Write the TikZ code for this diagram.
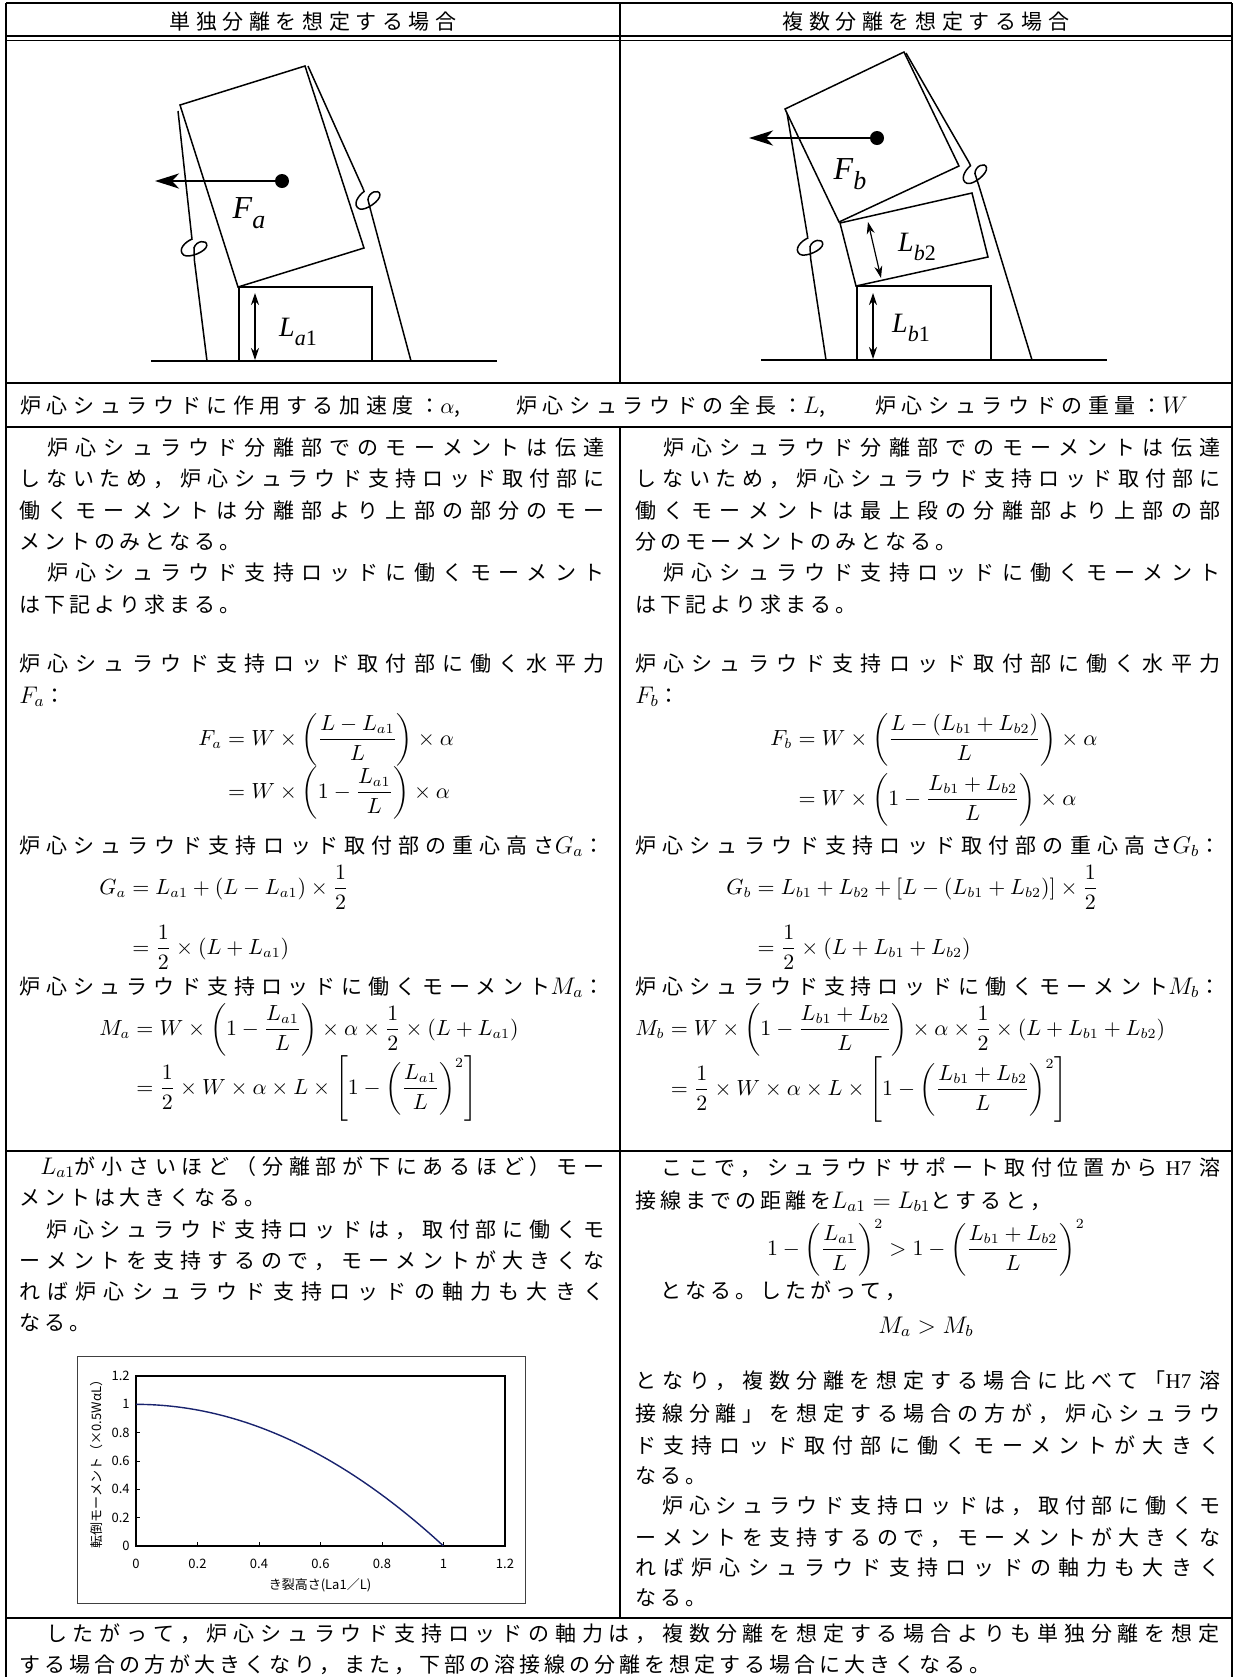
\documentclass[tikz,border=0pt]{standalone}
\usepackage{amsmath}
\usepackage{fontspec}
\newfontfamily\jp{Noto Sans CJK JP}
\newfontfamily\tnr{Liberation Serif}
\usetikzlibrary{arrows.meta}

% glue between Japanese characters
\newskip\cjkgap
\chardef\jpclass=7
\makeatletter
\count@="3000
\loop\XeTeXcharclass\count@=\jpclass \ifnum\count@<"30FF \advance\count@\@ne\repeat
\count@="4E00
\loop\XeTeXcharclass\count@=\jpclass \ifnum\count@<"9FFF \advance\count@\@ne\repeat
\count@="FF00
\loop\XeTeXcharclass\count@=\jpclass \ifnum\count@<"FFEF \advance\count@\@ne\repeat
\makeatother
\XeTeXinterchartoks\jpclass\jpclass={\hskip\cjkgap}
\XeTeXinterchartokenstate=1

\newcommand\jpnat{\jp\fontsize{10.5}{12}\selectfont\cjkgap=2pt\relax}
\newcommand\jphead{\jp\fontsize{10.5}{12}\selectfont\cjkgap=2.8pt\relax}
\newcommand\jline[1]{{\cjkgap=0pt plus 1fil\relax\makebox[292.5pt][s]{#1}}}
\newcommand\wline[1]{{\cjkgap=0pt plus 1fil\relax\makebox[600pt][s]{#1}}}
\newcommand\sub[2]{\raisebox{-0.3em}{\fontsize{#1}{#1}\selectfont #2}}
\newcommand\im[1]{{\fontsize{11.5}{12}\selectfont$#1$}}

\tikzset{
  rodloop/.pic={
    \draw[part] (0,-12) -- (0,-9) .. controls (-7,-7) and (-16,0) .. (-10,6)
      .. controls (-5,10) and (13,5) .. (14,-1)
      .. controls (15,-7) and (4,-7) .. (1,0) -- (0,12);
    \coordinate (-top) at (0,-12);
    \coordinate (-bot) at (0,12);
  }
}

\begin{document}
\begin{tikzpicture}[x=0.5pt, y=-0.5pt,
    rule/.style={line width=1pt},
    thinrule/.style={line width=0.6pt},
    part/.style={line width=0.75pt},
    force/.style={line width=1.4pt, -{Stealth[length=12pt, width=7.5pt, inset=3.5pt]}},
    dim/.style={line width=0.6pt, {Stealth[length=6pt, width=4pt]}-{Stealth[length=6pt, width=4pt]}},
    jtext/.style={anchor=base west, inner sep=0pt, font=\jpnat},
    htext/.style={anchor=base, inner sep=0pt, font=\jphead},
    formula/.style={anchor=base west, inner sep=0pt, font=\fontsize{10.5}{13}\selectfont},
    lbl/.style={inner sep=0pt, font=\tnr\itshape\fontsize{16}{16}\selectfont},
    tick/.style={inner sep=0pt, font=\jp\fontsize{6.5}{7}\selectfont}]
  \useasboundingbox (0,0) rectangle (1237,1677);

  % table rules
  \draw[rule] (6,3) -- (1232,3);
  \draw[rule] (6,3) -- (6,1677);
  \draw[rule] (1232,3) -- (1232,1677);
  \draw[rule] (6,36) -- (1232,36);
  \draw[line width=0.5pt] (6,40) -- (1232,40);
  \draw[rule] (6,383) -- (1232,383);
  \draw[rule] (6,427) -- (1232,427);
  \draw[rule] (6,1151) -- (1232,1151);
  \draw[rule] (6,1618) -- (1232,1618);
  \draw[thinrule] (620,3) -- (620,383);
  \draw[thinrule] (620,427) -- (620,1618);

  % headers
  \node[htext] (lhead) at (313,29.5) {単独分離を想定する場合};
  \node[htext] (rhead) at (926,29.5) {複数分離を想定する場合};

  % single separation
  \draw[part, line width=1pt] (151,361) -- (497,361);
  \draw[part] (239,287) rectangle (372,361);
  \draw[part] (180,105) -- (305,66) -- (364,248) -- (238,287) -- cycle;
  \pic[rotate=6.5] (kal) at (193,248) {rodloop};
  \pic[rotate=19] (kar) at (367,200) {rodloop};
  \draw[part] (178,111) -- (kal-top);
  \draw[part] (kal-bot) -- (207,361);
  \draw[part] (308,66) -- (kar-top);
  \draw[part] (kar-bot) -- (411,361);
  \fill (282,181) circle[radius=3.5pt];
  \draw[force] (282,181) -- (155,181);
  \draw[dim] (255,293) -- (255,360);
  \node[lbl] (fa) at (249,213) {F\sub{13}{a}};
  \node[lbl, font=\tnr\itshape\fontsize{14}{14}\selectfont] (la) at (298,332) {L\sub{11}{a\upshape 1}};

  % multiple separation
  \draw[part, line width=1pt] (761,360) -- (1107,360);
  \draw[part] (857,286) rectangle (991,360);
  \draw[part] (840,223) -- (972,193) -- (988,257) -- (856,286) -- cycle;
  \draw[part] (785,109) -- (904,52) -- (959,166) -- (839,222) -- cycle;
  \pic[rotate=8] (kbl) at (809,247) {rodloop};
  \pic[rotate=23] (kbr) at (974,174) {rodloop};
  \draw[part] (787,113) -- (kbl-top);
  \draw[part] (kbl-bot) -- (826,360);
  \draw[part] (906,53) -- (kbr-top);
  \draw[part] (kbr-bot) -- (1032,360);
  \fill (877,138) circle[radius=3.5pt];
  \draw[force] (877,138) -- (749,138);
  \draw[dim] (868,222) -- (881,278);
  \draw[dim] (873,293) -- (873,359);
  \node[lbl] (fb) at (850,174) {F\sub{13}{b}};
  \node[lbl, font=\tnr\itshape\fontsize{14}{14}\selectfont] (lb2) at (917,247) {L\sub{11}{b\upshape 2}};
  \node[lbl, font=\tnr\itshape\fontsize{14}{14}\selectfont] (lb1) at (911,328) {L\sub{11}{b\upshape 1}};

  % common conditions
  \node[htext, anchor=base west] (accel) at (20,413) {炉心シュラウドに作用する加速度：$\alpha$,};
  \node[htext, anchor=base west] (length) at (516,413) {炉心シュラウドの全長：\im{L},};
  \node[htext, anchor=base west] (weight) at (875,413) {炉心シュラウドの重量：\im{W}};

  % left column, moment
  \node[jtext] (l1) at (19,455) {\jline{　炉心シュラウド分離部でのモーメントは伝達}};
  \node[jtext] (l2) at (19,486) {\jline{しないため，炉心シュラウド支持ロッド取付部に}};
  \node[jtext] (l3) at (19,518) {\jline{働くモーメントは分離部より上部の部分のモー}};
  \node[jtext] (l4) at (19,549) {メントのみとなる。};
  \node[jtext] (l5) at (19,580) {\jline{　炉心シュラウド支持ロッドに働くモーメント}};
  \node[jtext] (l6) at (19,612) {は下記より求まる。};
  \node[jtext] (l7) at (19,671) {\jline{炉心シュラウド支持ロッド取付部に働く水平力}};
  \node[jtext] (l8) at (19,703) {\im{F_a}：};
  \node[formula] (fa1) at (198,745) {$F_a = W\times\left(\dfrac{L-L_{a1}}{L}\right)\times\alpha$};
  \node[formula] (fa2) at (198,798) {$\phantom{F_a}= W\times\left(1-\dfrac{L_{a1}}{L}\right)\times\alpha$};
  \node[jtext] (l9) at (19,853) {\jline{炉心シュラウド支持ロッド取付部の重心高さ\im{G_a}：}};
  \node[formula] (ga1) at (99,894) {$G_a = L_{a1}+(L-L_{a1})\times\dfrac{1}{2}$};
  \node[formula] (ga2) at (99,954) {$\phantom{G_a}=\dfrac{1}{2}\times(L+L_{a1})$};
  \node[jtext] (l10) at (19,994) {\jline{炉心シュラウド支持ロッドに働くモーメント\im{M_a}：}};
  \node[formula] (ma1) at (99,1035) {$M_a = W\times\left(1-\dfrac{L_{a1}}{L}\right)\times\alpha\times\dfrac{1}{2}\times(L+L_{a1})$};
  \node[formula] (ma2) at (99,1094) {$\phantom{M_a}=\dfrac{1}{2}\times W\times\alpha\times L\times\left[1-\left(\dfrac{L_{a1}}{L}\right)^{2}\right]$};

  % right column, moment
  \node[jtext] (r1) at (635,455) {\jline{　炉心シュラウド分離部でのモーメントは伝達}};
  \node[jtext] (r2) at (635,486) {\jline{しないため，炉心シュラウド支持ロッド取付部に}};
  \node[jtext] (r3) at (635,518) {\jline{働くモーメントは最上段の分離部より上部の部}};
  \node[jtext] (r4) at (635,549) {分のモーメントのみとなる。};
  \node[jtext] (r5) at (635,580) {\jline{　炉心シュラウド支持ロッドに働くモーメント}};
  \node[jtext] (r6) at (635,612) {は下記より求まる。};
  \node[jtext] (r7) at (635,671) {\jline{炉心シュラウド支持ロッド取付部に働く水平力}};
  \node[jtext] (r8) at (635,703) {\im{F_b}：};
  \node[formula] (fb1) at (770,745) {$F_b = W\times\left(\dfrac{L-(L_{b1}+L_{b2})}{L}\right)\times\alpha$};
  \node[formula] (fb2) at (770,805) {$\phantom{F_b}= W\times\left(1-\dfrac{L_{b1}+L_{b2}}{L}\right)\times\alpha$};
  \node[jtext] (r9) at (635,853) {\jline{炉心シュラウド支持ロッド取付部の重心高さ\im{G_b}：}};
  \node[formula] (gb1) at (726,894) {$G_b = L_{b1}+L_{b2}+[L-(L_{b1}+L_{b2})]\times\dfrac{1}{2}$};
  \node[formula] (gb2) at (726,954) {$\phantom{G_b}=\dfrac{1}{2}\times(L+L_{b1}+L_{b2})$};
  \node[jtext] (r10) at (635,994) {\jline{炉心シュラウド支持ロッドに働くモーメント\im{M_b}：}};
  \node[formula] (mb1) at (635,1035) {$M_b = W\times\left(1-\dfrac{L_{b1}+L_{b2}}{L}\right)\times\alpha\times\dfrac{1}{2}\times(L+L_{b1}+L_{b2})$};
  \node[formula] (mb2) at (635,1095) {$\phantom{M_b}=\dfrac{1}{2}\times W\times\alpha\times L\times\left[1-\left(\dfrac{L_{b1}+L_{b2}}{L}\right)^{2}\right]$};

  % left column, conclusion
  \node[jtext] (ll1) at (19,1174) {\jline{　\im{L_{a1}}が小さいほど（分離部が下にあるほど）モー}};
  \node[jtext] (ll2) at (19,1205) {メントは大きくなる。};
  \node[jtext] (ll3) at (19,1237) {\jline{　炉心シュラウド支持ロッドは，取付部に働くモ}};
  \node[jtext] (ll4) at (19,1268) {\jline{ーメントを支持するので，モーメントが大きくな}};
  \node[jtext] (ll5) at (19,1299) {\jline{れば炉心シュラウド支持ロッドの軸力も大きく}};
  \node[jtext] (ll6) at (19,1330) {なる。};

  % chart
  \draw[line width=0.5pt, black!75] (77,1356) rectangle (525,1603);
  \draw[line width=0.8pt] (136,1376) rectangle (505,1546);
  \draw[line width=0.5pt] (197.5,1546) -- (197.5,1542) (259,1546) -- (259,1542)
    (320.5,1546) -- (320.5,1542) (382,1546) -- (382,1542) (443.5,1546) -- (443.5,1542)
    (136,1517.7) -- (140,1517.7) (136,1489.3) -- (140,1489.3) (136,1461) -- (140,1461)
    (136,1432.7) -- (140,1432.7) (136,1404.3) -- (140,1404.3);
  \draw[line width=0.7pt, color={rgb,255:red,25;green,35;blue,110}]
    plot[domain=0:1, samples=60] ({136+307.5*\x}, {1546-141.67*(1-\x*\x)});
  \node[tick] (x0) at (136,1564) {0};
  \node[tick] (x02) at (197.5,1564) {0.2};
  \node[tick] (x04) at (259,1564) {0.4};
  \node[tick] (x06) at (320.5,1564) {0.6};
  \node[tick] (x08) at (382,1564) {0.8};
  \node[tick] (x10) at (443.5,1564) {1};
  \node[tick] (x12) at (505,1564) {1.2};
  \node[tick, anchor=east] (y0) at (130,1546) {0};
  \node[tick, anchor=east] (y02) at (130,1517.7) {0.2};
  \node[tick, anchor=east] (y04) at (130,1489.3) {0.4};
  \node[tick, anchor=east] (y06) at (130,1461) {0.6};
  \node[tick, anchor=east] (y08) at (130,1432.7) {0.8};
  \node[tick, anchor=east] (y10) at (130,1404.3) {1};
  \node[tick, anchor=east] (y12) at (130,1376) {1.2};
  \node[tick] (xtitle) at (320,1585) {き裂高さ(La1／L)};
  \node[tick, rotate=90] (ytitle) at (97,1461) {転倒モーメント（×0.5WαL）};

  % right column, conclusion
  \node[jtext] (rr1) at (635,1175) {\jline{　ここで，シュラウドサポート取付位置から\hspace{4pt}{\tnr H7}\hspace{4pt}溶}};
  \node[jtext] (rr2) at (635,1208) {接線までの距離を\im{L_{a1}=L_{b1}}とすると，};
  \node[formula, anchor=base] (ineq) at (926,1255) {$1-\left(\dfrac{L_{a1}}{L}\right)^{2} > 1-\left(\dfrac{L_{b1}+L_{b2}}{L}\right)^{2}$};
  \node[jtext] (rr3) at (635,1298) {　となる。したがって，};
  \node[formula, anchor=base, font=\fontsize{12}{14}\selectfont] (mamb) at (926,1333) {$M_a > M_b$};
  \node[jtext] (rr4) at (635,1388) {\jline{となり，複数分離を想定する場合に比べて「{\tnr H7}\hspace{4pt}溶}};
  \node[jtext] (rr5) at (635,1421) {\jline{接線分離」を想定する場合の方が，炉心シュラウ}};
  \node[jtext] (rr6) at (635,1453) {\jline{ド支持ロッド取付部に働くモーメントが大きく}};
  \node[jtext] (rr7) at (635,1483) {なる。};
  \node[jtext] (rr8) at (635,1513) {\jline{　炉心シュラウド支持ロッドは，取付部に働くモ}};
  \node[jtext] (rr9) at (635,1545) {\jline{ーメントを支持するので，モーメントが大きくな}};
  \node[jtext] (rr10) at (635,1575) {\jline{れば炉心シュラウド支持ロッドの軸力も大きく}};
  \node[jtext] (rr11) at (635,1605) {なる。};

  % summary
  \node[jtext] (sum1) at (19,1641) {\wline{　したがって，炉心シュラウド支持ロッドの軸力は，複数分離を想定する場合よりも単独分離を想定}};
  \node[jtext] (sum2) at (19,1672) {する場合の方が大きくなり，また，下部の溶接線の分離を想定する場合に大きくなる。};
\end{tikzpicture}
\end{document}
